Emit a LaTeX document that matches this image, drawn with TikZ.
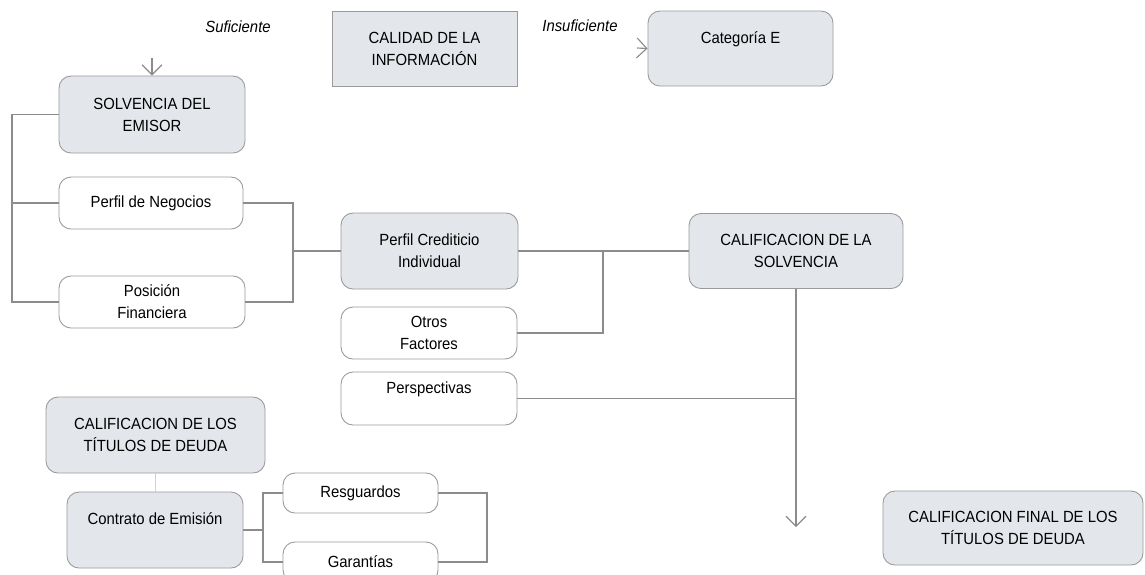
\documentclass[tikz,border=0pt]{standalone}
\usepackage{fontspec}
\setmainfont[FakeStretch=0.92]{Liberation Sans}
\usetikzlibrary{arrows.meta}
\definecolor{boxfill}{HTML}{E3E7EB}
\definecolor{linegray}{HTML}{8C8C8C}
\definecolor{edgegray}{HTML}{9A9A9A}

\begin{document}
\begin{tikzpicture}[
    box/.style={draw=edgegray, line width=0.5pt, fill=boxfill, rounded corners=2.4mm, align=center, inner sep=0pt, font={\fontsize{9.2}{12.5}\selectfont}},
    wbox/.style={box, fill=white},
    sqbox/.style={box, rounded corners=0pt},
    conn/.style={draw=linegray, line width=0.65pt},
    arr/.style={conn, -{Straight Barb[length=2mm,width=4mm]}},
    lbl/.style={font={\fontsize{9.2}{12.5}\selectfont\itshape}}]

      \clip (0,0) rectangle (22.9,-11.48);

      \node[lbl] (suf) at (4.76,-0.54) {Suficiente};
      \node[sqbox, minimum width=3.7cm, minimum height=1.5cm] (cal) at (8.49,-0.97) {CALIDAD DE LA\\INFORMACIÓN};
      \node[lbl] (insuf) at (11.6,-0.52) {Insuficiente};

      \node[box, minimum width=3.7cm, minimum height=1.5cm] (cat) at (14.81,-0.97) {Categoría E\\\mbox{}};
      \coordinate (catin) at (12.74,-0.96);
        \draw[arr] (catin) -- (cat.west);

      \node[box, minimum width=3.72cm, minimum height=1.54cm] (solv) at (3.04,-2.29) {SOLVENCIA DEL\\EMISOR};
      \coordinate (sufin) at (3.04,-1.16);
        \draw[arr] (sufin) -- (solv.north);

      \node[wbox, minimum width=3.68cm, minimum height=1.04cm] (neg) at (3.02,-4.06) {Perfil de Negocios};
      \node[wbox, minimum width=3.72cm, minimum height=1.04cm] (pos) at (3.04,-6.04) {Posición\\Financiera};
      \coordinate (lb) at (0.24,0);
        \draw[conn] (solv.west) -- (solv.west -| lb) |- (pos.west);
        \draw[conn] (neg.west) -- (neg.west -| lb);

      \node[box, minimum width=3.54cm, minimum height=1.52cm] (pc) at (8.59,-5.02) {Perfil Crediticio\\Individual};
      \coordinate (rb) at (5.86,0);
        \draw[conn] (neg.east) -- (neg.east -| rb) |- (pos.east);
        \draw[conn] (rb |- pc.west) -- (pc.west);

      \node[wbox, minimum width=3.52cm, minimum height=1.04cm] (otros) at (8.58,-6.66) {Otros\\Factores};
      \node[wbox, minimum width=3.52cm, minimum height=1.06cm] (persp) at (8.58,-7.97) {Perspectivas\\\mbox{}};

      \node[box, minimum width=4.28cm, minimum height=1.5cm] (cs) at (15.92,-5.02) {CALIFICACION DE LA\\SOLVENCIA};
      \coordinate (mj) at (12.06,0);
        \draw[conn] (pc.east) -- (pc.east -| cs.west);
        \draw[conn] (otros.east) -| (mj |- pc.east);
      \coordinate (finin) at (15.92,-10.54);
        \draw[arr] (cs.south) -- (finin);
        \draw[conn] (persp.east) -- (persp.east -| cs.south);

      \node[box, minimum width=4.38cm, minimum height=1.52cm] (tit) at (3.11,-8.70) {CALIFICACION DE LOS\\TÍTULOS DE DEUDA};
      \node[box, minimum width=3.52cm, minimum height=1.52cm] (con) at (3.10,-10.60) {Contrato de Emisión\\\mbox{}};
        \draw[draw=linegray!40, line width=0.4pt] (tit.south) -- (tit.south |- con.north);

      \node[wbox, minimum width=3.1cm, minimum height=0.8cm] (res) at (7.21,-9.86) {Resguardos};
      \node[wbox, minimum width=3.1cm, minimum height=0.8cm] (gar) at (7.21,-11.24) {Garantías};
      \coordinate (cb) at (5.26,0);
      \coordinate (gb) at (9.74,0);
        \draw[conn] (res.west) -- (res.west -| cb) |- (gar.west);
        \draw[conn] (con.east) -- (con.east -| cb);
        \draw[conn] (res.east) -- (res.east -| gb) |- (gar.east);

      \node[box, minimum width=5.2cm, minimum height=1.48cm] (fin) at (20.26,-10.56) {CALIFICACION FINAL DE LOS\\TÍTULOS DE DEUDA};

    \end{tikzpicture}
\end{document}
